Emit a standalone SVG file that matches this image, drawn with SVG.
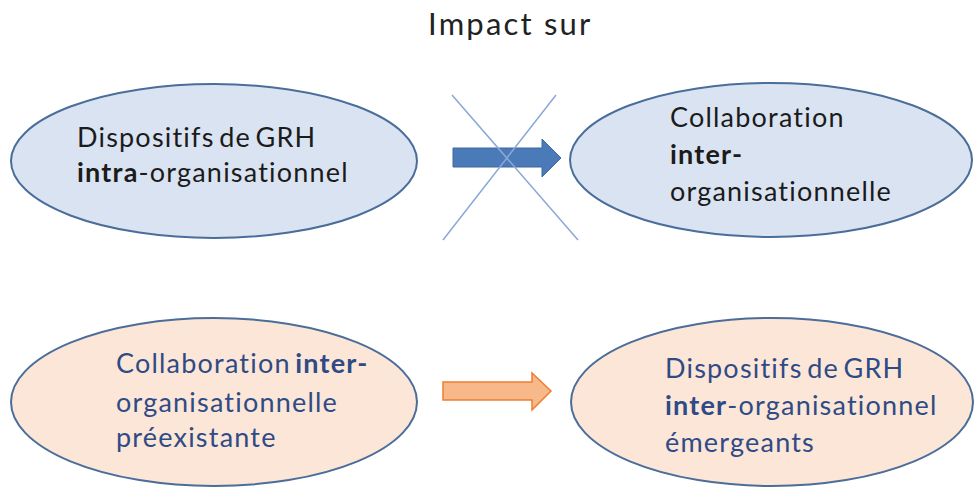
<svg xmlns="http://www.w3.org/2000/svg" width="976" height="488" viewBox="0 0 976 488">
<style>
.t{font-family:Lato,"Liberation Sans",sans-serif;font-size:27px;letter-spacing:1.2px;word-spacing:-3.5px;font-variant-ligatures:none}
.b{font-weight:bold}
.top{fill:#1b1b1b}
.bot{fill:#2f4b86}
.eb{fill:#dae3f1;stroke:#4a6d9a;stroke-width:2}
.eo{fill:#fce6d7;stroke:#4a6d9a;stroke-width:2}
</style>
<rect width="976" height="488" fill="#ffffff"/>
<text x="428" y="35" font-family="Lato,'Liberation Sans',sans-serif" font-size="31" letter-spacing="2.2" fill="#222222">Impact sur</text>
<g id="node-intra">
<ellipse class="eb" cx="214" cy="161" rx="203" ry="77"/>
<text class="t top" x="77" y="147">Dispositifs de GRH</text>
<text class="t top" x="77" y="182"><tspan class="b">intra</tspan>-organisationnel</text>
</g>
<g id="node-collab-inter">
<ellipse class="eb" cx="771" cy="160" rx="201" ry="77"/>
<text class="t top" x="670" y="127">Collaboration</text>
<text class="t top b" x="670" y="164">inter-</text>
<text class="t top" x="670" y="201">organisationnelle</text>
</g>
<g id="node-collab-pre">
<ellipse class="eo" cx="214" cy="402" rx="203" ry="84"/>
<text class="t bot" x="116" y="373" letter-spacing="0.8">Collaboration <tspan class="b">inter-</tspan></text>
<text class="t bot" x="116" y="412">organisationnelle</text>
<text class="t bot" x="116" y="447">préexistante</text>
</g>
<g id="node-grh-inter">
<ellipse class="eo" cx="772" cy="402" rx="201" ry="84"/>
<text class="t bot" x="665" y="378">Dispositifs de GRH</text>
<text class="t bot" x="665" y="415"><tspan class="b">inter</tspan>-organisationnel</text>
<text class="t bot" x="665" y="452">émergeants</text>
</g>
<g id="connectors">
<polygon points="453,148 542,148 542,139 561,158 542,177 542,167 453,167" fill="#4a7ab8" stroke="#41699e" stroke-width="1"/>
<line x1="452" y1="95" x2="578" y2="240" stroke="#8aa8d6" stroke-width="1.5"/>
<line x1="556" y1="95" x2="443" y2="240" stroke="#8aa8d6" stroke-width="1.5"/>
<polygon points="443,382 532,382 532,373 551,391 532,410 532,400 443,400" fill="#f8b98a" stroke="#ed7d31" stroke-width="1.5"/>
</g>
</svg>
